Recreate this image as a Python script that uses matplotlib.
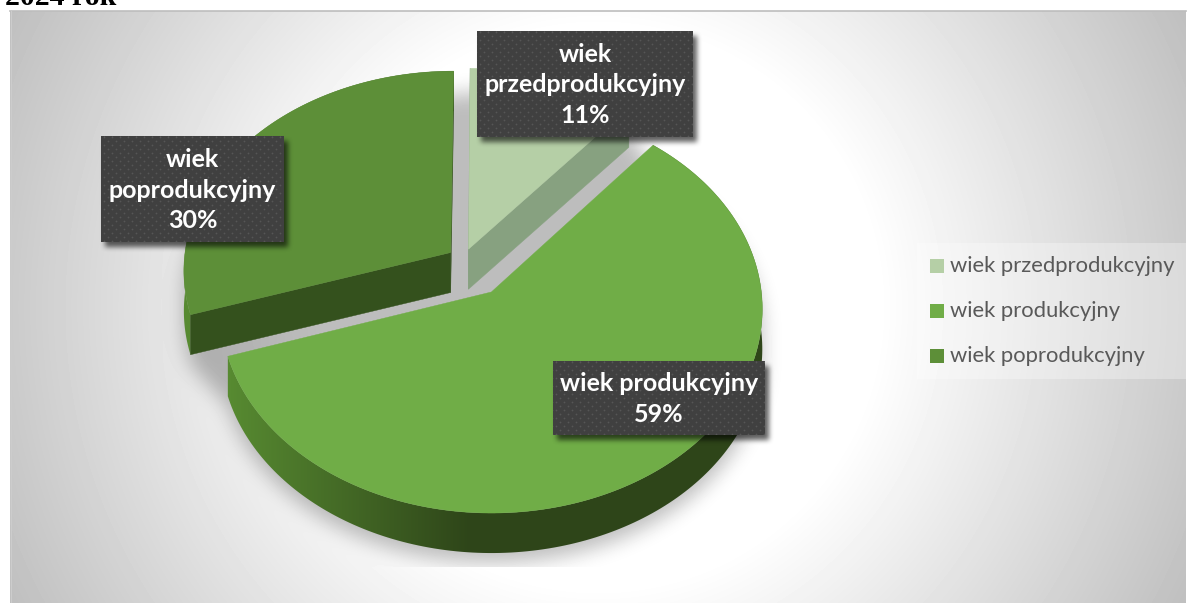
import numpy as np
import matplotlib
matplotlib.use('Agg')
import matplotlib.pyplot as plt
from matplotlib.colors import to_rgb
from matplotlib.patches import Polygon, Rectangle
from matplotlib.path import Path

categories = ['wiek przedprodukcyjny', 'wiek produkcyjny', 'wiek poprodukcyjny']
shares = [11, 59, 30]
title_text = '2024 rok'

top_colors = ['#b5cfa6', '#70ad47', '#5d8f38']
cut_colors = ['#87a180', '#2e4519', '#34511d']

# plane offset of every exploded slice, and the wrapped label layout
offsets = [(-0.081, -0.215), (0.005, 0.0), (-0.148, -0.198)]
label_boxes = [(477, 31, 693, 137), (553, 361, 765, 435), (101, 136, 284, 242)]
label_wrap = [True, False, True]

W, H = 1189, 603
X0, Y0, RX, RY, PERSP = 490, 292, 270, 202.7, 0.083
DEPTH = 40


def project(x, y):
    w = 1 - PERSP * y
    return X0 + RX * x / w, Y0 + RY * y / w


def slice_outline(start, stop, offset):
    # apex first, then the arc, clockwise from 12 o'clock
    th = np.radians(np.linspace(start, stop, 200))
    x = np.r_[0, np.sin(th)] + offset[0]
    y = np.r_[0, -np.cos(th)] + offset[1]
    px, py = project(x, y)
    return np.column_stack([px, py])


def box_blur(mask, size, passes=3):
    kernel = np.ones(size) / size
    out = mask.astype(float)
    for _ in range(passes):
        out = np.apply_along_axis(lambda r: np.convolve(r, kernel, mode='same'), 0, out)
        out = np.apply_along_axis(lambda r: np.convolve(r, kernel, mode='same'), 1, out)
    return out


def draw_shadow(ax, alpha, z):
    rgba = np.zeros((H, W, 4))
    rgba[..., 3] = alpha
    ax.imshow(rgba, extent=(0, W, H, 0), aspect='auto', zorder=z)


fig = plt.figure(figsize=(W / 100, H / 100), dpi=100, facecolor='white')
ax = fig.add_axes([0, 0, 1, 1])
ax.set_axis_off()

angles = np.r_[0, np.cumsum(shares)] / np.sum(shares) * 360
outlines = [slice_outline(angles[i], angles[i + 1], offsets[i]) for i in range(len(shares))]

# blurred shadow of the pie, the gaps between slices get filled so they shade evenly
py, px = np.mgrid[0:H, 0:W]
centres = np.column_stack([px.ravel() + 0.5, py.ravel() + 0.5])
pie_mask = np.zeros((H, W), dtype=bool)
first_slice, green, last_slice = outlines
gaps = [
    [last_slice[-1], first_slice[1], first_slice[0], last_slice[0]],
    [first_slice[-1], green[1], green[0], first_slice[0]],
    [green[-1], last_slice[1], last_slice[0], green[0]],
]
for pts in outlines + [np.array(g) for g in gaps]:
    for drop in [24, DEPTH + 10]:
        pie_mask |= Path(pts + [0, drop]).contains_points(centres).reshape(H, W)
pie_shadow = 0.26 * box_blur(pie_mask, 19)
pie_shadow[:, 788:] = 0
pie_shadow[567:, :] = 0

# radial chart background, darkened by the pie shadow
dist = np.hypot(px - 598, py - 307)
shade = 255 - np.clip((dist - 280) / (658 - 280), 0, 1) * 64
shade = shade * (1 - pie_shadow)
ax.imshow(shade[11:H, 10:1186], cmap='gray', vmin=0, vmax=255, extent=(10, 1186, H, 11),
          aspect='auto', zorder=0)
ax.plot([10, 1186], [10.5, 10.5], color='#bdbdbd', lw=1.2, zorder=1)
ax.plot([10.5, 10.5], [11, H], color='#cccccc', lw=0.8, zorder=1)

ax.text(5, 5, title_text, family='Liberation Serif', weight='bold', fontsize=21.5,
        color='black', ha='left', va='baseline', zorder=5)

# rim colour runs from lit on the left to dark at the front
dark = np.array(to_rgb('#2e4519'))
lit = np.array(to_rgb('#578a31'))
t = np.clip((470 - np.arange(W)) / 240, 0, 1)[None, :, None]
rim_image = dark[None, None, :] + (lit - dark)[None, None, :] * t

ax.set_xlim(0, W)
ax.set_ylim(H, 0)

# green slice goes last, it sits in front of the other two
for i in [0, 2, 1]:
    z = 3.2 if i == 1 else 3 + 0.02 * i
    pts = outlines[i]
    arc = pts[1:]
    below = pts + [0, DEPTH]
    if i != 0:
        rim = Polygon(np.vstack([arc, arc[::-1] + [0, DEPTH]]), closed=True, transform=ax.transData)
        im = ax.imshow(np.repeat(rim_image, 2, axis=0), extent=(0, W, H, 0), aspect='auto', zorder=z)
        im.set_clip_path(rim)
    # cut faces, the green slice has none facing the front
    if i != 1:
        for a, b in [(0, 1), (-1, 0)]:
            face = [pts[a], pts[b], below[b], below[a]]
            ax.add_patch(Polygon(face, closed=True, facecolor=cut_colors[i], edgecolor=cut_colors[i],
                                 lw=0.3, zorder=z + 0.001))
    ax.add_patch(Polygon(pts, closed=True, facecolor=top_colors[i], edgecolor=top_colors[i],
                         lw=0.3, zorder=z + 0.002))

# dotted data labels
label_mask = np.zeros((H, W))
for x1, y1, x2, y2 in label_boxes:
    label_mask[y1 + 5:y2 + 5, x1 + 4:x2 + 4] = 1
draw_shadow(ax, 0.62 * box_blur(label_mask, 5), 4)

for i, (x1, y1, x2, y2) in enumerate(label_boxes):
    h, w = y2 - y1, x2 - x1
    gy, gx = np.mgrid[0:h, 0:w]
    dots = ((gy % 4 == 1) & ((gx + 4 * (gy // 4)) % 8 == 3)).astype(float)
    halo = np.roll(dots, 1, 0) + np.roll(dots, -1, 0) + np.roll(dots, 1, 1) + np.roll(dots, -1, 1)
    tile = 0x40 + dots * 0x16 + halo * 0x07
    ax.imshow(tile, cmap='gray', vmin=0, vmax=255, extent=(x1, x2, y2, y1),
              aspect='auto', interpolation='nearest', zorder=4.5)

    if label_wrap[i]:
        first, second = categories[i].split(' ')
        label = first + '\n' + second + '\n' + str(shares[i]) + '%'
    else:
        label = categories[i] + '\n' + str(shares[i]) + '%'
    ax.text((x1 + x2) / 2, (y1 + y2) / 2 + 1, label, family='Lato', weight='bold', fontsize=18,
            color='white', ha='center', va='center', linespacing=1.42, zorder=5)

ax.set_xlim(0, W)
ax.set_ylim(H, 0)

# legend
ax.add_patch(Rectangle((917, 243), 269, 136, facecolor='white', alpha=0.3, edgecolor='none', zorder=3))
legend_y = [266, 311, 356]
for i, cat in enumerate(categories):
    ax.add_patch(Rectangle((930, legend_y[i] - 7), 14, 14, facecolor=top_colors[i], edgecolor='none', zorder=4))
    ax.text(950, legend_y[i], cat, family='Lato', fontsize=15.8, color='#595959',
            ha='left', va='center', zorder=5)

fig.savefig('out.png', dpi=100)
